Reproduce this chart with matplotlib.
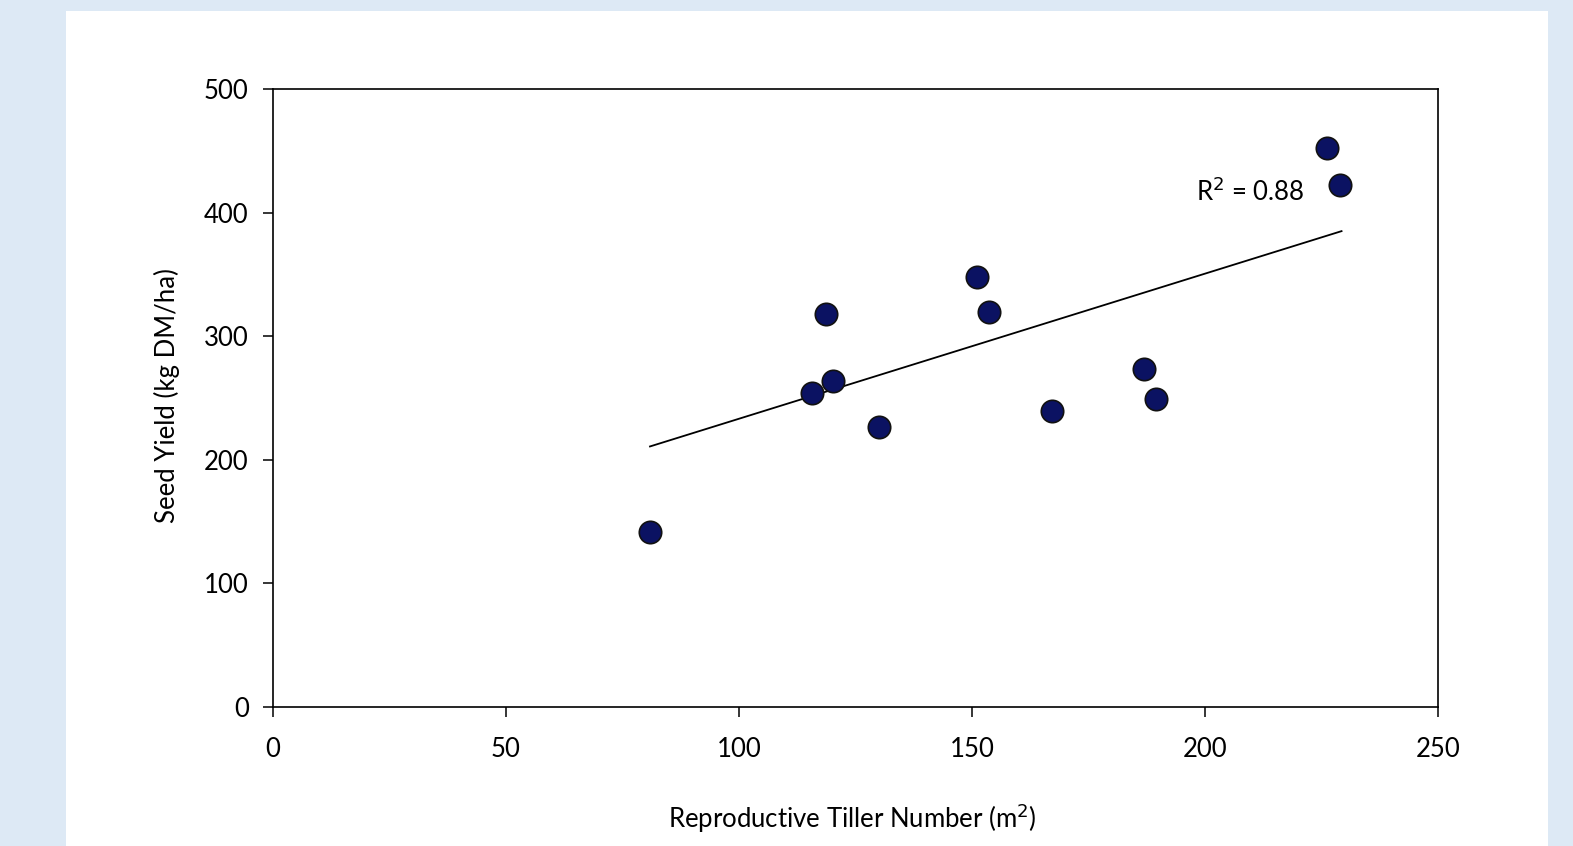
import matplotlib
matplotlib.use("Agg")
import matplotlib.pyplot as plt
from matplotlib.patches import Rectangle

# reproductive tiller number (m2) vs seed yield (kg DM/ha)
tillers = [80.9, 115.6, 118.7, 120.2, 130.0, 151.0, 153.7, 167.2, 187.0, 189.5, 226.2, 229.0]
seed_yield = [141.6, 254.0, 318.0, 263.7, 226.5, 348.0, 319.6, 239.5, 273.5, 249.0, 452.6, 422.6]

# trend line as drawn in the original
trend_x = [80.9, 229.3]
trend_y = [210.8, 385.0]
r2_text = "R$^2$ = 0.88"

x_ticks = [0, 50, 100, 150, 200, 250]
y_ticks = [0, 100, 200, 300, 400, 500]

plt.rcParams['font.family'] = ['Lato', 'DejaVu Sans']
fs = 18.5

fig = plt.figure(figsize=(15.73, 8.46), dpi=100)
fig.patch.set_facecolor('#dde9f5')
fig.patches.append(Rectangle((66 / 1573, 0), (1548 - 66) / 1573, 1 - 11 / 846,
                             transform=fig.transFigure, facecolor='white',
                             edgecolor='none', zorder=-10))

ax = fig.add_axes([273 / 1573, 1 - 707 / 846, (1438 - 273) / 1573, (707 - 89) / 846])
ax.set_facecolor('white')

ax.plot(trend_x, trend_y, color='black', linewidth=1.3, zorder=2)
ax.scatter(tillers, seed_yield, s=260, color='#0b1262', edgecolors='#111111',
           linewidths=1.2, zorder=3)
ax.text(198, 417, r2_text, fontsize=fs, ha='left', va='center')

ax.set_xlim(0, 250)
ax.set_ylim(0, 500)
ax.set_xticks(x_ticks)
ax.set_yticks(y_ticks)
ax.tick_params(direction='out', length=7.5, width=1.1, labelsize=fs)
ax.tick_params(axis='x', pad=14)
ax.tick_params(axis='y', pad=10)
for sp in ax.spines.values():
    sp.set_linewidth(1.2)
    sp.set_color('black')

fig.text(852 / 1573, 1 - 818 / 846, "Reproductive Tiller Number (m$^2$)",
         fontsize=fs, ha='center', va='center')
fig.text(167 / 1573, 1 - 396 / 846, "Seed Yield (kg DM/ha)",
         fontsize=fs, ha='center', va='center', rotation=90)

fig.savefig("out.png", dpi=100, facecolor=fig.get_facecolor())
